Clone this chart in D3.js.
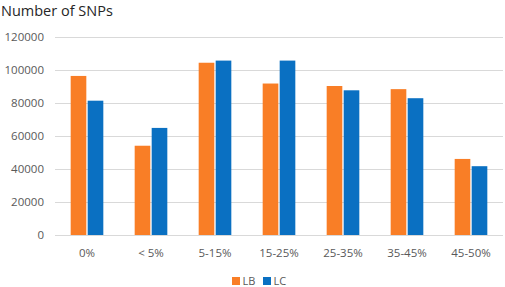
<!DOCTYPE html>
<html>
<head>
<meta charset="utf-8">
<script src="https://cdn.jsdelivr.net/npm/d3@7"></script>
<style>
  html, body { margin: 0; padding: 0; background: #fff; }
  svg { display: block; }
</style>
</head>
<body>
<div id="chart"></div>
<script>
// SNP counts per minor-allele-frequency bin, LB vs LC
const categories = ["0%", "< 5%", "5-15%", "15-25%", "25-35%", "35-45%", "45-50%"];
const seriesNames = ["LB", "LC"];
const lbValues = [96400, 54100, 104400, 91800, 90300, 88400, 46100];
const lcValues = [81400, 64900, 105700, 105700, 87700, 82900, 41700];
const yTicks = [0, 20000, 40000, 60000, 80000, 100000, 120000];

const colors = { LB: "#F97E26", LC: "#0A70C2" };
const FONT = "'Open Sans', 'Noto Sans', sans-serif";

const W = 505, H = 287, ML = 55, MR = 2, TOP = 37, BOT = 52;
const rows = categories.map((c, i) => ({ cat: c, LB: lbValues[i], LC: lcValues[i] }));

const x = d3.scaleBand().domain(categories).range([ML, W - MR]).paddingInner(0.49).paddingOuter(0.245);
const xs = d3.scaleBand().domain(seriesNames).range([0, x.bandwidth()]).paddingInner(0.08);
const y = d3.scaleLinear().domain([0, 120000]).range([H - BOT, TOP]);

const svg = d3.select("#chart").append("svg")
  .attr("width", W).attr("height", H);

// title
svg.append("text")
  .attr("x", 1).attr("y", 15.5)
  .attr("style", `font:14.5px ${FONT};fill:#262626`)
  .text("Number of SNPs");

// grid + y ticks
yTicks.forEach(v => {
  svg.append("line")
    .attr("x1", ML).attr("x2", W - MR)
    .attr("y1", y(v) + 0.5).attr("y2", y(v) + 0.5)
    .attr("stroke", "#d9d9d9").attr("stroke-width", 1);
  svg.append("text")
    .attr("x", 44).attr("y", y(v) + 4)
    .attr("text-anchor", "end")
    .attr("style", `font:11.5px ${FONT};fill:#595959`)
    .text(v);
});

// bars
const g = svg.append("g");
rows.forEach(r => {
  seriesNames.forEach(s => {
    g.append("rect")
      .attr("x", x(r.cat) + xs(s))
      .attr("y", y(r[s]))
      .attr("width", xs.bandwidth())
      .attr("height", y(0) - y(r[s]))
      .attr("fill", colors[s]);
  });
});

// x labels
categories.forEach(c => {
  svg.append("text")
    .attr("x", x(c) + x.bandwidth() / 2).attr("y", 257)
    .attr("text-anchor", "middle")
    .attr("style", `font:11.5px ${FONT};fill:#595959`)
    .text(c);
});

// legend
const legX = [232, 263];
seriesNames.forEach((s, i) => {
  svg.append("rect")
    .attr("x", legX[i]).attr("y", 277).attr("width", 8).attr("height", 8)
    .attr("fill", colors[s]);
  svg.append("text")
    .attr("x", legX[i] + 10.5).attr("y", 285)
    .attr("style", `font:11px ${FONT};fill:#595959`)
    .text(s);
});
</script>
</body>
</html>
